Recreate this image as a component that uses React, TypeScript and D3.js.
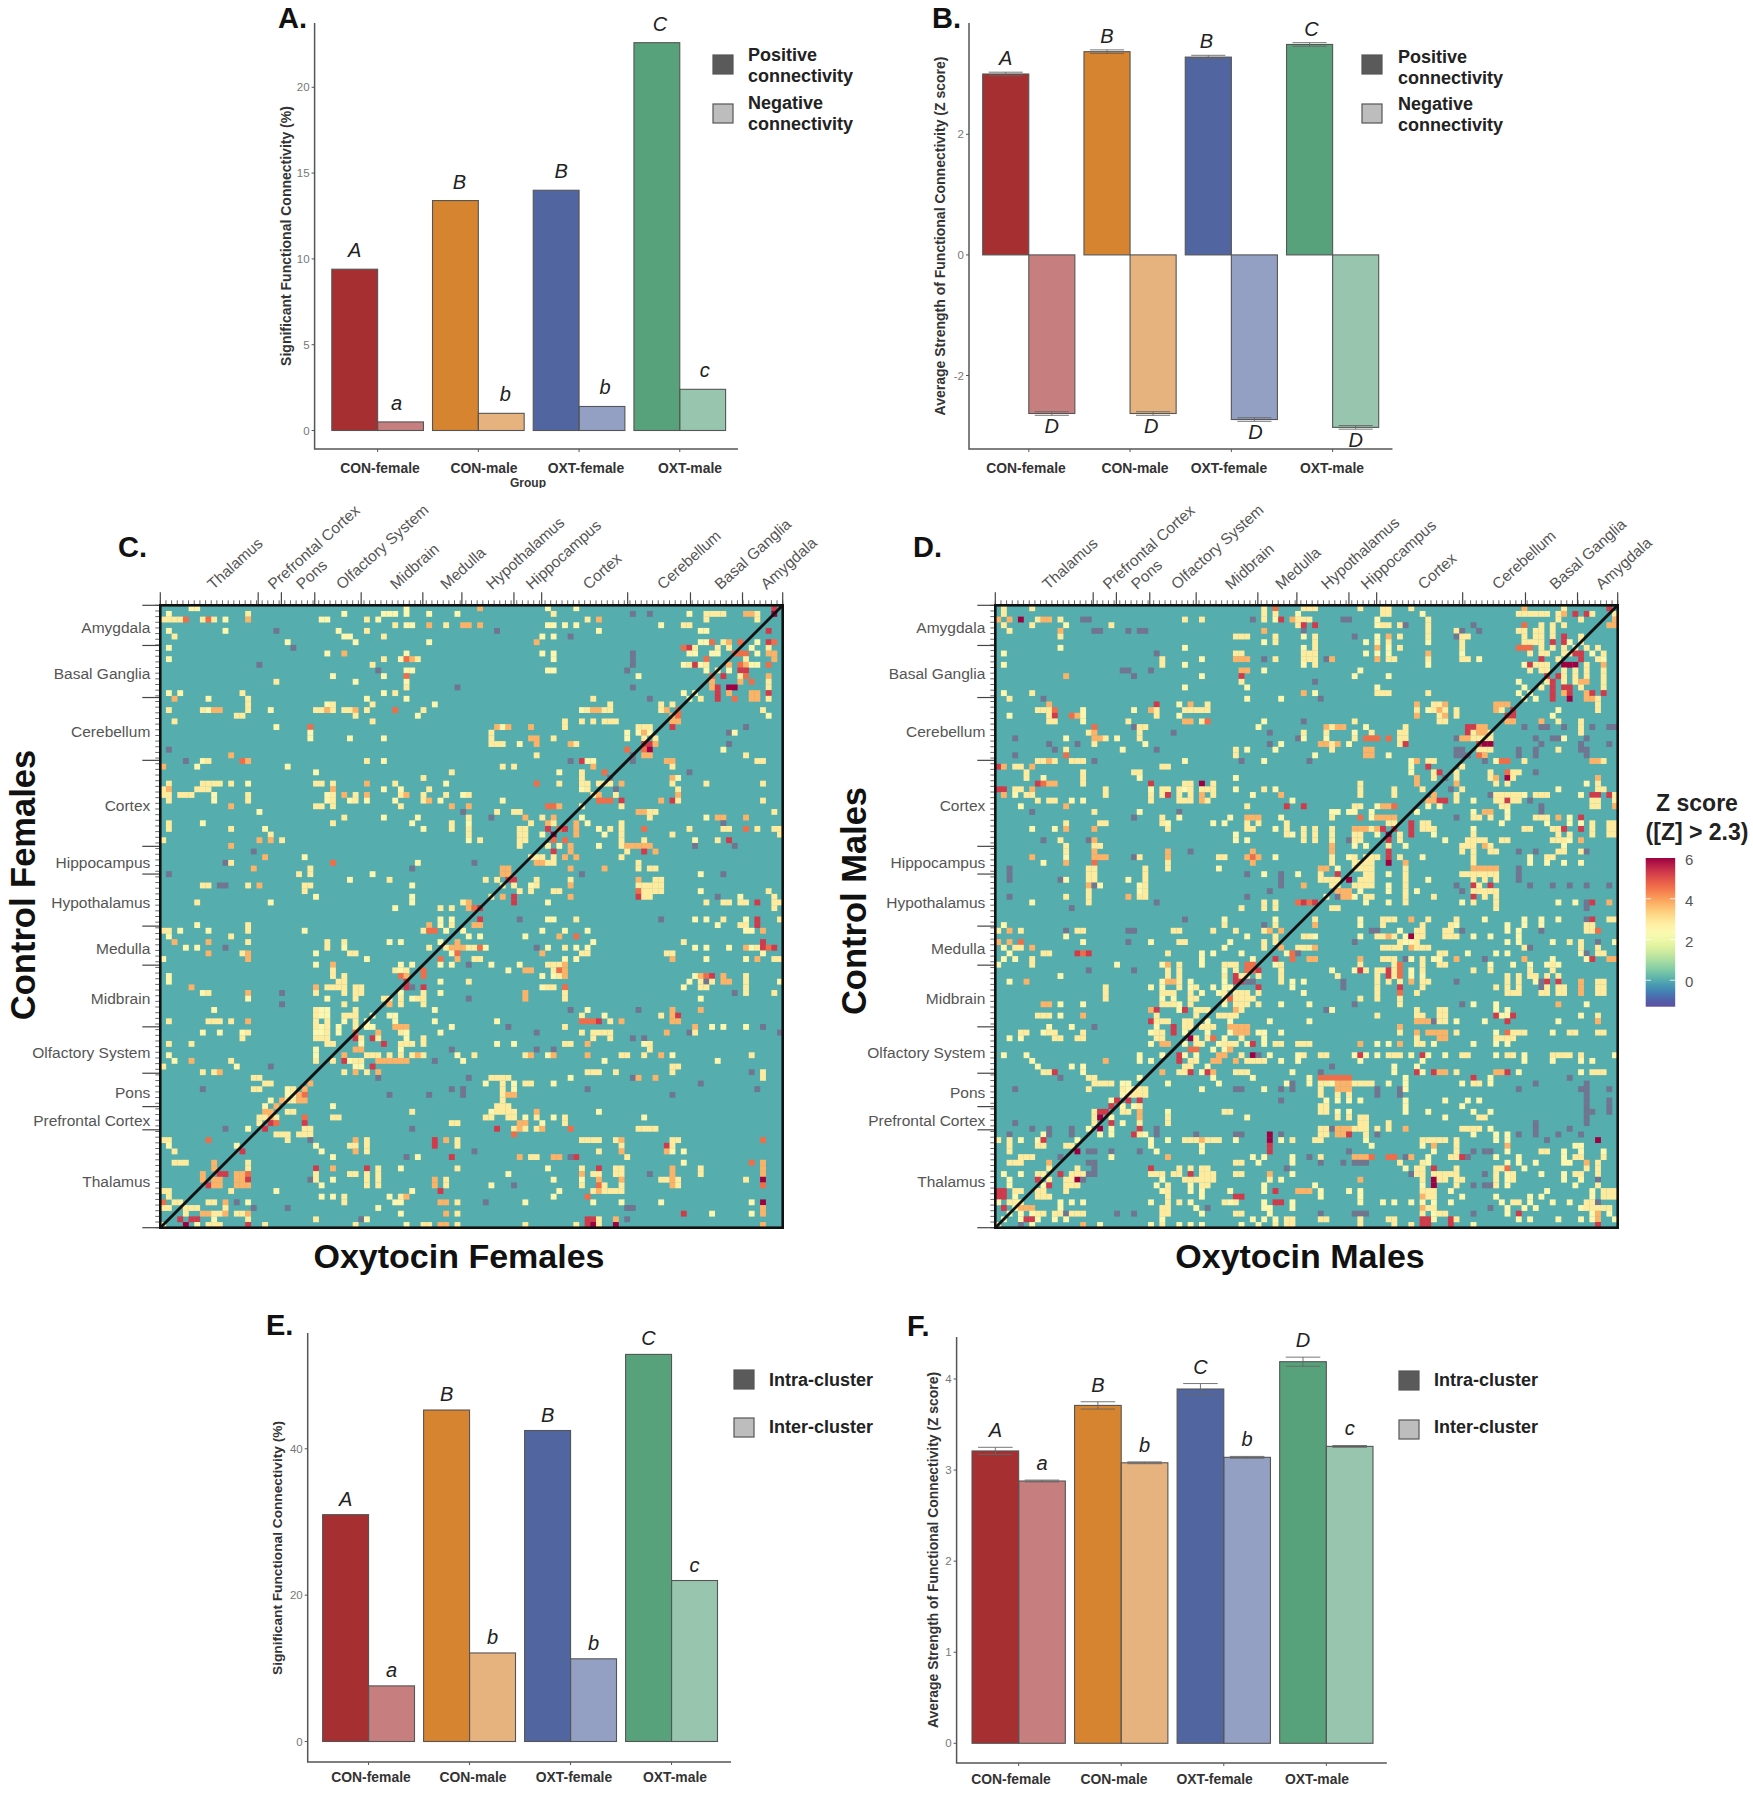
import React, { useEffect, useRef } from "react";
import * as d3 from "d3";

const FONT = "'Liberation Sans', Arial, sans-serif";

// ---- bar panels
const groups = ["CON-female", "CON-male", "OXT-female", "OXT-male"];
const groupColors = ["#a52f31", "#d6842f", "#5165a0", "#57a27a"];

const percentPositive = [9.4, 13.4, 14, 22.6];
const percentNegative = [0.5, 1, 1.4, 2.4];
const strengthPositive = [3.0, 3.37, 3.28, 3.49];
const strengthNegative = [-2.63, -2.63, -2.73, -2.86];
const strengthPosErr = [0.03, 0.03, 0.03, 0.03];
const strengthNegErr = [0.03, 0.03, 0.03, 0.03];
const clusterPercentIntra = [31, 45.3, 42.5, 52.9];
const clusterPercentInter = [7.6, 12.1, 11.3, 22];
const clusterStrengthIntra = [3.21, 3.71, 3.89, 4.19];
const clusterStrengthInter = [2.88, 3.08, 3.14, 3.26];
const clusterIntraErr = [0.04, 0.04, 0.06, 0.05];
const clusterInterErr = [0.01, 0.01, 0.01, 0.01];

const lettersA = [["A", "B", "B", "C"], ["a", "b", "b", "c"]];
const lettersB = [["A", "B", "B", "C"], ["D", "D", "D", "D"]];
const lettersE = [["A", "B", "B", "C"], ["a", "b", "b", "c"]];
const lettersF = [["A", "B", "C", "D"], ["a", "b", "b", "c"]];

// ---- heat maps
const regions = ["Thalamus", "Prefrontal Cortex", "Pons", "Olfactory System", "Midbrain", "Medulla", "Hypothalamus", "Hippocampus", "Cortex", "Cerebellum", "Basal Ganglia", "Amygdala"];
const regionEdges = [0, 17.3, 21.4, 27.3, 35.5, 46.4, 53.3, 62.5, 67.4, 82.6, 93.7, 102.9, 110];
const cellCount = 110;
const cellLevels: { [k: string]: number } = { "": 2.5, y: 2.85, o: 3.75, r: 4.6, m: 5.3, d: 6, g: -2.5 };

// one string per matrix row: column or column range, then a level letter
const femaleRows = [
  "5 6 43 56o 68 73 108m",
  "1 15y 32 39-41 43 47 52 69y 83g 86g 93 96-99y 103o 104o 105y 108d",
  "0y 1y 2y 3y 4r 7y 8r 9y 11 15o 28 29 36y 38 75y 77o 96y 105y",
  "41y 43 44 47o 50y 53o 54o 56o 68 69 71 73 88 92y 93y",
  "1 11 20g 31 36y 59g 77 95 96 107m",
  "2y 32 33 39y 67 69 72g",
  "22 34 47 66o 95 96 97r 99y 100o 102r 105 107m 108r",
  "1 23g 92r 93m 94y 98y 100y 104 107y",
  "29 32o 43 67 69 83g 93 94 97 98 101-103r 105 107o 108o",
  "1 39y 42 43r 44o 45y 69 83g 96r 103y 108o",
  "17g 37y 83g 92 93y 94m 95 96y 100o 102r 103o 104 105 107r",
  "38g 43 44 68 69 82g 96 98y 100 102m 103m",
  "30 39 43r 84 97r 99m 102y 103r 107o",
  "20y 34 43 97o 102o 104r 107y",
  "43y 52g 83g 97o 98m 100d 101d 107y",
  "1 3 14y 39 41y 92 94 98m 100o 104o 105o 107m",
  "2o 8 15y 36 43 76y 86g 93 95y 98m 101r 104o 105o 107y",
  "15y 29 30y 37y 48 79y 88y 90y",
  "1y 7y 8 9o 10o 15y 19 27y 28y 29o 30y 32y 33y 34o 36y 41r 46y 74 75y 76o 77o 78y 79y 88y 89o 91r 106y",
  "13y 14y 34y 45 90o 91r 107",
  "2y 37y 71y 74y 76y 78-80y 90o 91o",
  "20 26r 59o 60 61o 65o 71y 84-86y 90m 103g",
  "26 58y 82 84 85o 86 100g 101",
  "33 39 26 58y 65o 66o 69y 82 85y 87y",
  "58-60y 63 66o 72o 73y 85m 86m 87o 100g",
  "1g 82r 85r 86d 99",
  "12o 66y 83g 85o 86o 103y",
  "4g 7 8y 14r 15o 36y 39 72g 74m 75 76 83g 89o 90o 105y 106y",
  "0o 6 22 60y 62y 76o 90y",
  "27 51y 70 74y 78r 93g",
  "46y 74y 79g 90o 91",
  "1y 7-9y 10y 12y 15 27y 28y 30y 36o 41y 50 66r 70y 74y 75y 77y 78y 79y 81o 90y 96y 106y",
  "0y 1o 6-8y 30o 39 42 47y 74 75y 80g 91y",
  "0y 1y 3-5y 9 15y 29 30y 32o 34y 36o 42y 43o 46y 50y 53 54y 76y 77o 80y 91o",
  "1y 9 15y 29 30y 33 34y 36 41 46y 47o 49 60 77r 78r 79r 81m 88o 90m 91y 106y",
  "12o 27y 28y 30y 42y 51o 54o 68r 69r 70o 74y 81y",
  "17 53g 59y 62y 63y 84o 85o 86y 87y 108y",
  "32y 39 45 54y 58g 64o 67y 69o 74 86y 96 98o 99o 103o",
  "1y 7 30y 44 51y 54 65y 68o 69y 73o 75 81y 99g",
  "1y 12y 18 46 51y 54y 63y 64y 68m 70r 71m 73o 77 79y 81y 85r 93y 99y 100y 103r 105y 108y 109y",
  "19y 54y 63y 64y 67 69d 73o 78 81y 90y 109y",
  "0y 17o 19o 21y 54 56y 63y 64y 69r 71r 81y 85y 94 98y 100m",
  "12o 63y 68y 70 72o 77 81y 82-86o 94g 101g",
  "16g 69m 72o 82y 85m 87o",
  "18o 25 65y 66y 67y 69y 71o 73o 81y",
  "11g 12y 30r 45 55g 66o 67o 68y 69y 84y",
  "16o 26y 44g 60o 61o 72o 78o 84y 86y 87y",
  "1g 24y 26y 37 60o 61o 74g 95 99g",
  "33 40y 57y 59y 61m 62m 66y 72y 84o 87y 88y",
  "7y 8y 10g 11g 15y 17o 25y 26y 44 60y 62y 65 66y 72o 84-88y",
  "25y 63y 65y 69y 70y 84r 85-88y 95 107y",
  "27 44 58y 60o 62m 72o 84m 85y 86y 98g 102 108y",
  "6y 19 44 53y 54o 62m 68 96y 99y 100y 102y 103y 105m 108y 109y",
  "41 49y 51y 54o 55r 56m 108y",
  "",
  "49 51 56m 63g 68 69 73y 88g 94 96 99y 103 105m 109y",
  "6 15y 47o 49 51y 55o 56o 98 102y 103y 105m",
  "0y 1y 3 8 15y 25 46y 47r 48r 50 53 67 71 75 103 104 106o",
  "1 12y 54 56 64 70o 73r",
  "2o 8o 15y 29y 32y 40 42 49 52o 76 92y 106m",
  "4 6 11g 29y 32 47y 50y 51-53o 54y 55y 56r 57 66g 68 71y 73 75 94 96 100 103o 104 105y 106m 107r 108m",
  "8o 14y 15o 27 33y 34y 51 52r 67o 74y 75y 89y 90y 106",
  "0 15o 36 49r 52o 55y 56y 71 73 90o 96 103 105o 108y 109y",
  "27 30o 42 44 49 51 54g 58 63 68y 69y 70y 71o",
  "30y 41y 42 43y 46r 61 64o 65o 69y 70r 71o",
  "1 30y 32y 42r 43o 46r 67 69 70y 71o 94 95o 96r 97m 99o 103y",
  "1 31y 32y 43m 49 54y 93 95y 96g 97y 99o 100o 103y 109",
  "5o 27o 29-32y 34y 35y 43m 44g 46m 67 68y 69y 71r 92 95y 96y 103y",
  "7 8y 15o 21g 27y 32y 34y 35y 42 46y 49 64o 71y 101g 103y 108y",
  "15 29 34y 39y 40y 42y 44 45y 46y 54g 64o 71y 95",
  "21g 32y 40o 42y 46y",
  "9 27y 28 29 34y 48 72g 75 84g 90o 95o",
  "27y 28 29 32-34y 37 40 41 74y 78 88y 90o 91m",
  "1y 8-10y 12y 15o 27y 29y 32 34y 36 41 48 59 74r 75r 76r 77m 79y 81o 90o 91o",
  "27y 28 29y 31 34y 36 37 41o 42o 43o 51 61g 71y 94o 97 99 103 106g",
  "7 10 14 15y 27 28 29y 31 34r 38o 42y 43 49 66g 74y 76-78y 79y 89o 93g 94y 109g",
  "14y 27y 28y 29y 34m 35y 37m 38y 43 46y 76y 79y 83g 85g",
  "1y 5y 29y 30y 35 39m 42-44y 46y 59 62 71y 72y 75o 85 86y",
  "27 34o 35o 42 51g 66g 69g 86y",
  "1 27 32o 36-38y 40y 42y 44y 45o 46y 52 55y 64y 65o 68 69o 75o 81y 82y 85y 88o 90 104y",
  "2 5o 12y 27y 30y 32m 33 34y 35y 38o 39-43o 48g 53 78 98",
  "0y 13 19g 34 35 37m 90y 91y",
  "7y 9y 10o 32y 34o 36y 38o 75-77y 80y 90y 104g 106y",
  "16y 17y 38g 54g 58-61y 72 83g 84o 87o 106y",
  "18y 19y 26o 57 60y 62 64y 65y 69 95g",
  "7g 16y 17y 22 23y 25o 51g 53g 60y 62 75g 105g",
  "22 23 24o 25r 40g 47g 53g 60y 61o 62o 90g",
  "19 21o 22y 23y 24o 25o 60y",
  "18 20o 30 59y 60y 61y",
  "18o 19o 22y 23y 44y 58 59y 60y 61y 62y 66o 77",
  "17y 18y 19o 20y 25r 30y 31y 57y 58y 61y 62y 64 66y 69 71y 85",
  "17y 19m 20r 25m 51y 52y 63o 64o 67 71y",
  "11g 15 18m 25y 26y 44g 59m 62y 63o 64y 66y 67o 72r 84-87y",
  "20y 21y 22y 24y 25y 26y 62r",
  "0y 1y 8r 22y 26g 34o 36y 48m 50o 52y 74-77y 80y 81o 90y 91y 106r",
  "1 13 27 33y 34y 36y 48m 52y 81y 89m 90y",
  "2y 14m 28 34o 36y 55g 77y 81o 89o 90 92",
  "30 43g 45 51m 63o 65y 66y 69o 70o 72g 73m 82y",
  "2-4y 9o 15y 92 104r 106o",
  "9o 15y 27m 30o 36m 38y 42 52y 68 74y 77m 80y 81y 90o 95y 106o",
  "7o 10m 11m 13o 14o 15r 27y 33y 34y 36y 38y 61 74o 76y 77y 80y 81y 86g 90o 95y 106o",
  "7o 9o 10o 13o 14o 15m 26g 27y 30 36y 38y 48o 50y 69 74 77o 81o 88y 89y 90o 91y 103y 106d",
  "8m 9o 10o 13o 14o 15o 28 36y 38y 48o 50y 58 62g 74y 77r 78y 81y 90o 91y 106r",
  "0y 1y 12y 20 44 49m 70 76y 77o 78-81y",
  "1y 28 30 32y 40 42y 43o 69 75r",
  "0r 2y 3y 8y 9y 11o 13g 15 32y 41 42 49o 50o 52y 57g 64 76 81 88 104 106d",
  "0y 1y 4-6y 11y 16g 22g 38 82g 83g 106o",
  "4y 7o 8o 9y 10y 11o 13y 14y 15o 42 50o 52y 92m 97 104 106o",
  "3m 5m 6m 9 15y 27y 35g 36 75m 76m 77y 80o 82g",
  "0 4d 6 8y 9y 10y 15m 18y 34y 43 46y 47y 49o 50o 52y 64y 73y 75m 76d 77y 80d 106o",
];

const maleRows = [
  "1y 6y 47y 49r 54y 55y 56y 64y 68y 69y 73y 93o 100y 108m",
  "1y 47y 49y 53 68y 69y 75 92-97y 99y 100o 102m 104m 105y 109y",
  "0o 2o 4d 7y 8o 9o 11y 15g 16g 33y 36y 45g 47y 49 50m 52o 53y 54y 55y 61g 62g 67 76y 99y 103y 109o",
  "1y 6y 12 20y 53y 54m 56m 67 68y 69y 71y 72g 76y 84g 93r 96y 98y 100y 108o 109o",
  "2y 11o 17g 18g 23g 25g 26g 47o 54g 76y 81y 82g 85g 92y 93y 95y 96y 98y",
  "11y 42y 43y 44y 49y 54 56y 63g 67 69o 71y 76y 81g 82y 83y 93y 95y 96y 98y 100m 103y",
  "47 49y 56y 65 67 69y 76 82y 93y 94y 95y 96y 98m 100m 101 103y",
  "11 33 54 56y 67o 69 71y 82y 92-94r 96y 98y 100y 102 104y 106y",
  "1 28g 42y 43y 54y 55y 56y 65 67 69 76o 82 94y 96y 97y 100y 101y 102m 103m 105 107y",
  "29y 36 42o 43o 44o 47g 49y 54y 55y 56y 58g 59o 67o 69y 70y 76y 82y 83y 85 96m 99y 103m 106y 107",
  "1 29y 33 54 56y 76 93 94m 95y 96y 97y 100d 101d 102d 104y 107o",
  "22g 23g 27g 43o 44o 47 64 94y 96y 97y 100y 102y 104y 107y",
  "12o 24g 36 43m 63 69 97m 99m 100y 102y 104y 107y",
  "43y 56g 92 97y 98m 100y 102y 103o 104o 107y",
  "33 44 67 93 96y 98m 100m 101m 103y 107y",
  "1 6y 54o 56 67y 68y 69y 76y 92 94 98m 100o 101m 104o 105m 107m",
  "2y 8g 44 50 57g 93 95 98m 101d 104o 105o 106y",
  "9o 28m 32 34o 37y 74o 77y 78y 79o 88o 89o 90o 106y",
  "7-9y 10r 15 24 27o 28y 33-37y 74y 76 77y 78o 79y 81y 88o 89y 91m 99 106y",
  "2 9y 10m 13r 14o 15 28y 32 74o 78y 79o 81y 90m 91m 98",
  "9y 10y 15 23y 33o 34o 36y 37r 47 54g 63y 78y 79y 90o 91o 96o 99y 103y",
  "17r 24g 25y 26y 46 58o 59y 60o 61o 65 72y 83m 84m 85o 86o 93g 96g 97g 100g 103y 105g 108g 109g",
  "16y 17o 25y 31g 48g 54y 58y 63 66y 71y 72y 83m 84y 85o 86o 87y 103y",
  "3g 12 17o 18o 19y 21 25y 53g 54 58 63y 65r 66r 67r 69r 71y 72y 81g 82o 83o 84-87y 95g 98g 99g 100 104g",
  "9g 14g 17y 26 48g 50 57o 58o 59y 60o 62 71y 72m 85m 86d 87d 96g 103g 108g",
  "10g 12y 22 28g 42y 44 49 59y 65o 66o 81g 82g 85y 86y 87y 92g 95g 99y 103g 104g",
  "3g 12r 42y 56 65o 66o 69 81g 82g 83g 85r 86o 92g 95g 104g",
  "7y 8y 9o 10y 13-15y 17g 33 43g 47 55g 73 74o 76y 77y 86g 88 89r 90r 93y 105o 106o 107y",
  "0m 1o 3y 4y 6o 29y 30y 73 76m 82y",
  "5y 15y 24y 25y 73 77y 78m 81y 87y 90r 91y 92y 95g",
  "5y 8 15y 25 42 74o 77y 79g 81y 87y 88o 90d 91y 106o",
  "7m 8r 9o 10o 15y 27m 33y 34y 36d 38y 64y 74o 81o 88y 90y 104 106y",
  "0m 1m 3y 4y 6o 19y 27 29y 30y 32y 33 34y 36y 37y 38y 42 47y 49 64y 70y 75y 80g 82y 99 106y 107y",
  "1o 3 5y 6y 19y 27y 29y 30m 32y 34y 36o 38y 45 50o 64y 70y 77o 81y 87g 88y 89y 90y 91y 92y 93 95y 96y 97y 103 105m 106m 108m 109y",
  "7y 9y 10y 13 15 27y 32-34y 36o 37y 52 76o 77o 78m 79m 81y 84 88y 89y 90m 91y 92y 94g 105y 106y 109y",
  "4 12o 44y 51m 54m 63y 64y 67 68o 69o 70r 76 78 89y 90y 96g 105y 106y 109o",
  "6g 17y 25 32g 59 60 62 63 66 74 84 86o 87o 90 96g",
  "24g 29y 32 41 44o 45o 46o 50 59y 64r 66 67o 68o 69o 70o 81g 84y 85y 87y 90 95y 96y 97y 99o 101 103m",
  "12y 18y 19y 29y 30 38 40 44y 46y 51y 69y 70y 73m 75y 76y 89 97 101 103 105y 108y 109y",
  "6 10 12o 17o 30y 44y 45y 49 51y 54y 56y 59y 63o 64o 65o 66y 67o 68m 70m 73m 75y 76y 77y 84 93y 94y 98y 99y 100m 103m 105y 108y 109y",
  "42 51y 52 54y 56y 59y 63y 64y 67 69d 71y 73m 77 84y 99y 101y 105y 108y 109y",
  "8g 11y 16g 17o 42 44 54y 56y 59y 62g 63y 64y 69m 71y 79 83y 84y 85y 86y 89y 90y 98y 99y 100y 101 103o",
  "12y 17y 18y 59o 63 65 69y 72 82y 83y 84y 86o 87y 100",
  "12y 17o 30o 34g 45o 59o 69m 82y 84y 87y 88y 92g 95g 99y 100y 103y 104g",
  "6o 12 17o 18o 19o 24g 25y 30o 39y 40y 44o 45r 46o 49 59y 62 63y 65-67y 69m 71y 75 84y 94 97y 98y",
  "8 12o 17r 30y 45o 59y 63y 64y 65y 66y 69d 72o 84y 94 97 100 103",
  "2g 16y 17y 26y 30y 39 57o 58o 60 63-66y 72y 84o 85o 86o 87o 88o 92g",
  "2g 16y 17y 26y 44g 47 50g 53 57y 60m 65y 66y 69 72y 82-88y 92g",
  "2g 11g 12 16y 17y 23 26y 50g 57y 58y 59y 60y 62d 64-66y 72y 76 84y 86y 88y 92g",
  "16o 17g 18 25 26y 50g 54o 59y 60y 63y 64y 65y 66y 69 72y 81g 84m 85y 87m 94g 98g 101g 104g 108g",
  "16y 25 26y 48g 60o 61o 62o 64 69 72y 74 82g 84y 85y 86y 87y 88y",
  "2g 12y 16y 23o 25y 26y 44g 58 60g 61o 62o 63 65y 66y 72y 77y 84m 86y 88y",
  "6 16y 28g 47y 49y 53r 54m 55r 56m 65 69 72y 82 84y 88y 99 102 104g 105m 108o",
  "13g 43y 47y 49y 59y 60y 88y 104g",
  "",
  "33g 40 49 56y 64 68y 69y 70y 73o 76y 81y 86 93 96 99 104g 105m 108y 109y",
  "1 40y 47g 49y 56o 64 68y 75y 80y 81 90 93 96 104y 105y",
  "0y 2o 4y 12g 14y 15y 23g 24g 31y 32y 38y 42y 47y 48o 50o 66g 67g 71 74y 75y 79y 80y 82g 90 92 96g 104y 105y 106r",
  "12 44 49y 54y 55y 56 64 67y 68y 69o 70y 72 73d 74y 75y 79-81y 84 87 92",
  "0o 2o 4r 15 23g 27 32y 33y 41 47y 49y 63g 71y 72 73 74y 90 92 98 101y 103y 106g 109",
  "1 3y 4y 6o 40 47y 50o 53y 54y 55y 56o 68y 69y 70y 71y 73o 74y 75y 76y 93y 94g 103y 106y",
  "2 8y 9y 14m 15r 16m 30y 36 38 43 51 52r 53g 78y 79y 83 88 90 103 104g 106y 107y",
  "1 3 6y 36 45 49m 52r 55o 56o 64o 68-70y 72g 73 75y 77 78 81o 86g 93o 98 104 105m 108o 109o",
  "0 6y 21 29 30o 32y 36 40-42y 44r 45r 49 50y 64y 70y 71r 75y 78y 79y 87 91 94 97 98y 99",
  "16g 24g 30y 32y 40 42y 44r 45r 46m 50y 59 63 64m 65y 67y 68y 69m 70y 71r 73 75y 84y 87y 94y 98y",
  "11 30y 32y 40y 42m 43y 44y 46y 50y 60y 67y 69m 70y 71r 73 75 90y 92y 94y 95y 97y 99y",
  "2 5o 29 30o 31o 32y 34 40 42m 43m 44g 45g 50y 52 54 61g 67y 69y 71y 73o 75y 76y 81g 90y 92y 95 96g 97m 99m 103o 106y 107y",
  "19y 27 29 32y 34 35y 38 40 41 46m 52 61g 67y 71m 75y 88y 90y 92y 96g 97y 99y 100y 103o 106y 107y",
  "19y 29y 30y 31y 34y 36 39 40y 42y 43y 44y 46y 54 67y 71r 74y 90y 91y 92y 96y 97y 99y 100y 103o 106y 107y",
  "19y 29 31 34y 35y 40y 41r 42-45y 64y 67y 71y",
  "8o 9o 11 15 29y 30y 31y 32 34y 40 42y 43y 44y 46y 50 55 63g 71y 82g 84 88 99o 104",
  "27o 28m 32 33m 35y 36y 37y 42o 43y 58g 59 74y 78y 79y 88 90",
  "7y 8y 9y 11 15o 28y 35y 39-42y 67y 74y 75y 78y 79y 88m 89 90 91m 103 106y",
  "27m 28y 29y 30y 33y 34y 37 41 48 55 74o 75o 76o 77g 78y 79y 81 86 90m 99 106o",
  "9 13 17g 28 31m 33y 34y 36-38y 41o 42o 43o 44o 71o",
  "4y 5y 8 9y 10y 15y 27 28y 29y 31m 33 37 41 42o 43o 44o 46 47 50 71y 74o 76o 77o 78o 79o 81y 88 90r 91-93y 98 101y 102y 106y 107y",
  "2 4 10y 11y 14y 15y 28y 29y 34d 35y 37y 38r 40 43y 47 74y 78o 79o 88y 89y 90y 91y",
  "27 29o 30o 33 35y 36y 39 40-42y 44 45m 47 49y 50y 53y 54y 55y 64o 67 69 71o 74y 75y 77 84 88 90",
  "34r 35r 38 40 41o",
  "1 5 25 29 32m 33 35 39o 40o 43y 45d 46g 48 53 54y 57y 58y 63 64m 65 67 69-71y 73 75m 76 79 82y 83y 88 90y 91y 93 98-101y 103y 109",
  "6 19o 25 27 32m 34y 35y 38o 39o 42o 44-47y 50 53 64 75 93 98 103 105",
  "7 13 15 33y 34y 37 59g 70 74",
  "8y 9y 10m 15 29o 32y 33y 34m 36 37m 38o 42-44y 52 57g 70 74m 75 77m 78o 79o 81y 88o 89o 90m 92 103 105y 106y 107y",
  "11g 16y 17y 25 38 45 55 57r 58r 59-62r 72 84m 87 101g",
  "17y 18y 19y 20y 22 23 30 39 51 52g 55 57y 58y 59 60o 61o 62o 63-66y 69 72 82 84y 85y 87 95g 104g",
  "3g 16y 22y 23 24-26y 36 42g 43g 47 50g 52g 57y 60o 61o 62o 67g 71g 72 92g 103g 104g 108g",
  "22 23 24y 25y 26y 57y 60y 62y 67g 71g 104g",
  "20 21m 23m 25m 50g 58 60 62 64 72 79 83 85 104g 108g",
  "20m 22 24 25y 57y 58y 72 82 104g 108g",
  "17y 18m 19m 22y 23y 25o 30 40y 41y 57y 58y 60 62 72 76 84 87 104g 105g 108g",
  "17y 18d 20 25o 30y 44 60y 62y 64y 65y 79 85y 86y 104g",
  "3g 17y 20m 22 25y 30y 64y 65y 69y 95g 104g",
  "6g 9g 13g 16 18d 20 25m 28g 57y 58y 59g 60o 61o 62o 63-65y 67y 69y 72o 82-85y 87 95g 101g",
  "2g 8 9g 13g 18 20 24m 25y 26 28g 35g 42g 43g 48d 50g 57y 58y 60o 61o 62m 65y 67g 84 88 90 92g 95g 99g 103g",
  "0y 2y 4 7 8m 14 27 30 33-35y 36o 37-39y 42 48d 50 52y 56y 57y 65 75y 76y 77y 78y 79y 81y 88 90 97g 106d",
  "2y 7y 8y 12y 13y 27 36 48m 66 75 77o 81y 90o 102 103",
  "2y 14d 16g 17g 20g 25g 28 36 48m 62g 77 81y 84g 86g 87g 90 96y 97y 100 103 107",
  "4y 5y 6y 11g 20 30o 45 47 52 55g 57y 63-65o 66r 69r 70r 72g 73o 76 80y 81y 82m 83g 88 92 100 102y 103y 107y",
  "2-4y 9o 16g 17g 42y 43y 46 52 57g 61g 63g 64g 65g 71y 75y 76 90 92 95 100 101 104o 106y",
  "9y 14y 17g 27m 32y 34y 36y 37y 51g 72 74y 75y 77m 81y 88y 89y 90r 93 104y 106y",
  "1 4 7y 8y 11m 13-15y 16g 17g 27y 28y 29y 31y 32y 34m 36y 37y 38y 42y 43y 48o 52 73g 74y 75y 77y 78-81y 86g 88y 90 91y 96 100 102y 103y 106y",
  "2 7m 9y 12y 13y 14d 15g 29 33y 34y 35y 36y 37y 38y 48y 50 64o 75y 77d 78y 79y 81y 82y 88y 90 91y 100 103 106g",
  "2 8 9m 12y 13y 14y 28 30y 34 36y 37y 47 56 75 77d 81y 84g 86g 87g 88y 90 102 106y",
  "0m 1m 3y 4y 7y 8y 12y 29 30y 34 36 41 47 49m 53-55o 57 62 64 75y 76y 77y 80 97 105 107y 108y 109y",
  "0m 1m 3 7y 8y 9y 30y 36 42m 43m 57 64 75o 76y 77y 82 88 94 96 105 107y 108y 109y",
  "0 2y 3y 4 11 13 15 27 30y 32y 34 40y 41 42y 47 49m 50m 52 64 68 70 73 75 77 80 89 91y 92y 94 98 101 104y 105y 106g",
  "1m 3 4o 5o 6o 11 29y 30y 35 37g 47 48 52 75o 76y 77y 87g 90 93 95 103 104-108y",
  "2 4 6 7y 8y 10y 11y 12g 13-15y 21g 24g 29y 30y 36 42y 43y 48 57g 63g 64g 65g 75y 77 78y 79y 84g 90 92m 105 106o 108",
  "1 4 5m 6m 7 10 12 29 45 47 49 51y 52y 57y 58y 64y 69y 70y 75m 76m 77 80m 81y 92 94 99 103 105 106o 109",
  "0 4g 6 15o 18 27 29y 32 34 36 43 46 49y 51y 52y 64y 70y 73y 75m 76m 80m 84 106m",
];

const scaleTicks = [0, 2, 4, 6];
const scaleDomain = [-1.3, 6];

function parseRows(rows: string[]) {
  const out: { row: number; col: number; z: number }[] = [];
  rows.forEach((line, row) => {
    line.split(" ").filter(Boolean).forEach((tok) => {
      const m = tok.match(/^(\d+)(?:-(\d+))?([a-z]?)$/);
      if (!m) return;
      const a = +m[1];
      const b = m[2] ? +m[2] : a;
      for (let col = a; col <= b; col++) out.push({ row, col, z: cellLevels[m[3]] });
    });
  });
  return out;
}

// same teal as the reference comes out at t = .835 for z = 0
const heat = (z: number) => (z < 0 ? "#6f7490" : d3.interpolateSpectral((6 - z) / 7.19));

const barPanels = [
  {
    letter: "A.", letterX: 278, letterY: 28, pos: percentPositive, neg: percentNegative, posErr: null, negErr: null, marks: lettersA,
    markShift: [[0, 4, 5, 3], [-4, 4, 3, 2]],
    xRange: [331.8, 725.6], yDomain: [0, 20], yRange: [430.5, 87.3], ticks: [0, 5, 10, 15, 20],
    axisX: 314.6, axisY: 449, axisTop: 23, axisRight: 738, gap: 12,
    title: "Significant Functional Connectivity (%)", titleX: 291, titleY: 236, titleSize: 14,
    labelX: [380, 484, 586, 690], labelY: 473,
    legend: [["Positive", "connectivity"], ["Negative", "connectivity"]], legendX: 713, legendTextX: 748,
    swatchY: [55, 104], textY: [61, 109],
  },
  {
    letter: "B.", letterX: 932, letterY: 28, pos: strengthPositive, neg: strengthNegative, posErr: strengthPosErr, negErr: strengthNegErr, marks: lettersB,
    markShift: [[0, 0, -2, 2], [0, -2, 1, 0]],
    xRange: [982.7, 1378.7], yDomain: [0, 2], yRange: [254.9, 134.3], ticks: [-2, 0, 2],
    axisX: 969, axisY: 449, axisTop: 23, axisRight: 1392.5, gap: 7,
    title: "Average Strength of Functional Connectivity (Z score)", titleX: 945, titleY: 236, titleSize: 14,
    labelX: [1026, 1135, 1229, 1332], labelY: 473,
    legend: [["Positive", "connectivity"], ["Negative", "connectivity"]], legendX: 1362, legendTextX: 1398,
    swatchY: [55, 104], textY: [63, 110],
  },
  {
    letter: "E.", letterX: 266, letterY: 1335, pos: clusterPercentIntra, neg: clusterPercentInter, posErr: null, negErr: null, marks: lettersE,
    markShift: [[0, 0, 0, 0], [0, 0, 0, 0]],
    xRange: [322.6, 717.5], yDomain: [0, 40], yRange: [1741.5, 1448.8], ticks: [0, 20, 40],
    axisX: 307.7, axisY: 1762, axisTop: 1333, axisRight: 731, gap: 9,
    title: "Significant Functional Connectivity (%)", titleX: 282, titleY: 1548, titleSize: 13.7,
    labelX: [371, 473, 574, 675], labelY: 1782,
    legend: [["Intra-cluster"], ["Inter-cluster"]], legendX: 734, legendTextX: 769,
    swatchY: [1370, 1418], textY: [1386, 1433],
  },
  {
    letter: "F.", letterX: 907, letterY: 1336, pos: clusterStrengthIntra, neg: clusterStrengthInter, posErr: clusterIntraErr, negErr: clusterInterErr, marks: lettersF,
    markShift: [[0, 0, 0, 0], [0, 0, 0, 0]],
    xRange: [972, 1373], yDomain: [0, 4], yRange: [1743.3, 1379], ticks: [0, 1, 2, 3, 4],
    axisX: 956.6, axisY: 1763, axisTop: 1337, axisRight: 1386.8, gap: 10,
    title: "Average Strength of Functional Connectivity (Z score)", titleX: 938, titleY: 1550, titleSize: 13.9,
    labelX: [1011, 1114, 1214.6, 1317], labelY: 1784,
    legend: [["Intra-cluster"], ["Inter-cluster"]], legendX: 1399, legendTextX: 1434,
    swatchY: [1371, 1420], textY: [1386, 1433],
  },
];

const heatPanels = [
  { letter: "C.", letterX: 118, rows: femaleRows, left: 160.3, yTitle: "Control Females", yTitleX: 35, yTitleY: 885, xTitle: "Oxytocin Females", xTitleX: 459 },
  { letter: "D.", letterX: 913, rows: maleRows, left: 995.3, yTitle: "Control Males", yTitleX: 866, yTitleY: 901, xTitle: "Oxytocin Males", xTitleX: 1300 },
];

const App = () => {
  const svgRef = useRef<SVGSVGElement | null>(null);

  useEffect(() => {
    const svg = d3.select(svgRef.current);
    svg.selectAll("*").remove();
    svg.style("font-family", FONT);
    const defs = svg.append("defs");
    defs.append("filter").attr("id", "soft").append("feGaussianBlur").attr("stdDeviation", 0.7);

    barPanels.forEach((p) => {
      const g = svg.append("g");
      const x = d3.scaleBand().domain(groups).range(p.xRange as [number, number]).paddingInner(0.09);
      const inner = d3.scaleBand().domain(["pos", "neg"]).range([0, x.bandwidth()]);
      const y = d3.scaleLinear().domain(p.yDomain).range(p.yRange);

      [p.pos, p.neg].forEach((vals, si) => {
        const key = si === 0 ? "pos" : "neg";
        const errs = si === 0 ? p.posErr : p.negErr;
        vals.forEach((v, i) => {
          const bx = x(groups[i])! + inner(key)!;
          g.append("rect")
            .attr("x", bx)
            .attr("y", Math.min(y(v), y(0)))
            .attr("width", inner.bandwidth())
            .attr("height", Math.abs(y(v) - y(0)))
            .attr("fill", groupColors[i])
            .attr("fill-opacity", si === 0 ? 1 : 0.62)
            .attr("stroke", "#555")
            .attr("stroke-width", 1.1);
          const cx = bx + inner.bandwidth() / 2;
          const errVal = errs ? errs[i] : 0;
          if (errs) {
            const capW = inner.bandwidth() * 0.37;
            [v - errVal, v + errVal].forEach((e) => {
              g.append("line").attr("x1", cx - capW).attr("x2", cx + capW).attr("y1", y(e)).attr("y2", y(e)).attr("stroke", "#666").attr("stroke-width", 0.9);
            });
            g.append("line").attr("x1", cx).attr("x2", cx).attr("y1", y(v - errVal)).attr("y2", y(v + errVal)).attr("stroke", "#666").attr("stroke-width", 0.9);
          }
          const ly = v < 0 ? y(v - errVal) + 18 : y(v + errVal) - p.gap;
          g.append("text")
            .attr("x", cx + p.markShift[si][i])
            .attr("y", ly)
            .attr("text-anchor", "middle")
            .attr("font-style", "italic")
            .attr("font-size", 20)
            .attr("fill", "#222")
            .text(p.marks[si][i]);
        });
      });

      // axes
      g.append("path").attr("d", `M${p.axisX},${p.axisTop}V${p.axisY}H${p.axisRight}`).attr("fill", "none").attr("stroke", "#555").attr("stroke-width", 1.5);
      p.ticks.forEach((t) => {
        g.append("line").attr("x1", p.axisX - 3).attr("x2", p.axisX).attr("y1", y(t)).attr("y2", y(t)).attr("stroke", "#555");
        g.append("text").attr("x", p.axisX - 5).attr("y", y(t)).attr("dy", "0.35em").attr("text-anchor", "end").attr("font-size", 11.5).attr("fill", "#777").text(t);
      });
      groups.forEach((name, i) => {
        const cx = x(name)! + x.bandwidth() / 2;
        g.append("line").attr("x1", cx).attr("x2", cx).attr("y1", p.axisY).attr("y2", p.axisY + 3).attr("stroke", "#555");
        g.append("text").attr("x", p.labelX[i]).attr("y", p.labelY).attr("text-anchor", "middle").attr("font-size", 13.9).attr("font-weight", "bold").attr("fill", "#333").text(name);
      });
      g.append("text")
        .attr("transform", `translate(${p.titleX},${p.titleY}) rotate(-90)`)
        .attr("text-anchor", "middle")
        .attr("font-size", p.titleSize)
        .attr("font-weight", "bold")
        .attr("fill", "#333")
        .text(p.title);
      g.append("text").attr("x", p.letterX).attr("y", p.letterY).attr("font-size", 29).attr("font-weight", "bold").attr("fill", "#111").text(p.letter);

      // legend
      p.legend.forEach((lines, i) => {
        g.append("rect").attr("x", p.legendX).attr("y", p.swatchY[i]).attr("width", 20).attr("height", 19).attr("fill", i === 0 ? "#5a5a5a" : "#bdbdbd").attr("stroke", "#555").attr("stroke-width", 1.2);
        lines.forEach((line, j) => {
          g.append("text").attr("x", p.legendTextX).attr("y", p.textY[i] + j * 21).attr("font-size", 18).attr("font-weight", "bold").attr("fill", "#222").text(line);
        });
      });
    });

    // axis title that is cut off under panel A
    defs.append("clipPath").attr("id", "groupClip").append("rect").attr("x", 490).attr("y", 478).attr("width", 80).attr("height", 10);
    svg.append("text").attr("x", 528).attr("y", 487).attr("clip-path", "url(#groupClip)").attr("text-anchor", "middle").attr("font-size", 12).attr("font-weight", "bold").attr("fill", "#333").text("Group");

    const top = 605.3;
    const size = 622.4;
    heatPanels.forEach((p) => {
      const g = svg.append("g");
      const cols = d3.scaleBand<number>().domain(d3.range(cellCount)).range([p.left, p.left + size]);
      const rowsScale = d3.scaleBand<number>().domain(d3.range(cellCount)).range([top, top + size]);
      const edgeX = d3.scaleLinear().domain([0, cellCount]).range([p.left, p.left + size]);
      const edgeY = d3.scaleLinear().domain([0, cellCount]).range([top + size, top]);

      const cells = g.append("g").attr("filter", "url(#soft)");
      cells.append("rect").attr("x", p.left).attr("y", top).attr("width", size).attr("height", size).attr("fill", heat(0));
      cells.selectAll("rect.cell")
        .data(parseRows(p.rows))
        .enter()
        .append("rect")
        .attr("class", "cell")
        .attr("x", (d) => cols(d.col)!)
        .attr("y", (d) => rowsScale(d.row)!)
        .attr("width", cols.bandwidth() + 0.2)
        .attr("height", rowsScale.bandwidth() + 0.2)
        .attr("fill", (d) => heat(d.z));

      // minor ticks, one per cell
      d3.range(cellCount + 1).forEach((i) => {
        g.append("line").attr("x1", edgeX(i)).attr("x2", edgeX(i)).attr("y1", top - 5).attr("y2", top).attr("stroke", "#555").attr("stroke-width", 0.9);
        g.append("line").attr("x1", p.left - 5).attr("x2", p.left).attr("y1", edgeY(i)).attr("y2", edgeY(i)).attr("stroke", "#555").attr("stroke-width", 0.9);
      });
      regionEdges.forEach((e) => {
        g.append("line").attr("x1", edgeX(e)).attr("x2", edgeX(e)).attr("y1", top - 13).attr("y2", top).attr("stroke", "#444").attr("stroke-width", 1.2);
        g.append("line").attr("x1", p.left - 18).attr("x2", p.left).attr("y1", edgeY(e)).attr("y2", edgeY(e)).attr("stroke", "#444").attr("stroke-width", 1.2);
      });

      regions.forEach((name, i) => {
        const mid = (regionEdges[i] + regionEdges[i + 1]) / 2;
        g.append("text")
          .attr("transform", `translate(${edgeX(mid) + 4},${top - 15}) rotate(-42)`)
          .attr("font-size", 15.5)
          .attr("fill", "#555")
          .text(name);
        g.append("text")
          .attr("x", p.left - 10)
          .attr("y", edgeY(mid) + 2.5)
          .attr("dy", "0.35em")
          .attr("text-anchor", "end")
          .attr("font-size", 15.5)
          .attr("fill", "#555")
          .text(name);
      });

      g.append("rect").attr("x", p.left).attr("y", top).attr("width", size).attr("height", size).attr("fill", "none").attr("stroke", "#111").attr("stroke-width", 2.6);
      g.append("line").attr("x1", p.left).attr("y1", top + size).attr("x2", p.left + size).attr("y2", top).attr("stroke", "#111").attr("stroke-width", 3);

      g.append("text").attr("x", p.letterX).attr("y", 557).attr("font-size", 29).attr("font-weight", "bold").attr("fill", "#111").text(p.letter);
      g.append("text").attr("x", p.xTitleX).attr("y", 1268).attr("text-anchor", "middle").attr("font-size", 34).attr("font-weight", "bold").attr("fill", "#111").text(p.xTitle);
      g.append("text")
        .attr("transform", `translate(${p.yTitleX},${p.yTitleY}) rotate(-90)`)
        .attr("text-anchor", "middle")
        .attr("font-size", 34.5)
        .attr("font-weight", "bold")
        .attr("fill", "#111")
        .text(p.yTitle);
    });

    // colour bar
    const barY = d3.scaleLinear().domain(scaleDomain).range([1006.7, 858]);
    const grad = defs.append("linearGradient").attr("id", "zbar").attr("x1", 0).attr("x2", 0).attr("y1", 0).attr("y2", 1);
    d3.range(0, 1.001, 0.05).forEach((t) => {
      const z = scaleDomain[1] + t * (scaleDomain[0] - scaleDomain[1]);
      grad.append("stop").attr("offset", t).attr("stop-color", d3.interpolateSpectral(Math.min(1, (6 - z) / 7.19)));
    });
    svg.append("rect").attr("x", 1645.7).attr("y", barY(6)).attr("width", 29.5).attr("height", barY(-1.3) - barY(6)).attr("fill", "url(#zbar)");
    scaleTicks.forEach((t) => {
      [[1645.7, 1651], [1669.9, 1675.2]].forEach(([a, b]) => {
        if (t < 6) svg.append("line").attr("x1", a).attr("x2", b).attr("y1", barY(t)).attr("y2", barY(t)).attr("stroke", "#fff").attr("stroke-opacity", 0.8);
      });
      svg.append("text").attr("x", 1685).attr("y", barY(t) + 2).attr("dy", "0.35em").attr("font-size", 15).attr("fill", "#555").text(t);
    });
    svg.append("text").attr("x", 1697).attr("y", 811).attr("text-anchor", "middle").attr("font-size", 23).attr("font-weight", "bold").attr("fill", "#222").text("Z score");
    svg.append("text").attr("x", 1697).attr("y", 840).attr("text-anchor", "middle").attr("font-size", 23).attr("font-weight", "bold").attr("fill", "#222").text("([Z] > 2.3)");
  }, []);

  return <svg ref={svgRef} width={1753} height={1800} style={{ position: "absolute", left: 0, top: 0, background: "#fff" }} />;
};

export default App;
